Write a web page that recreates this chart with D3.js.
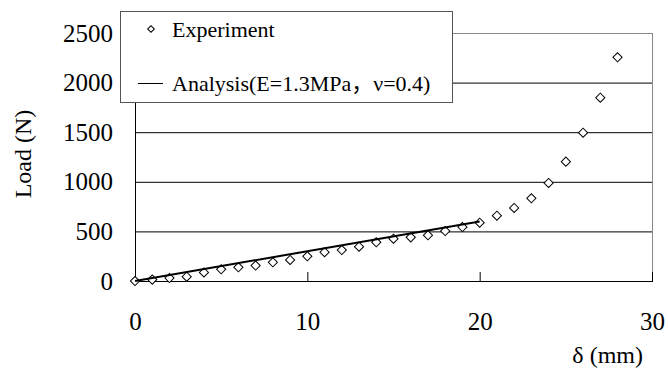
<!DOCTYPE html>
<html>
<head>
<meta charset="utf-8">
<script src="https://cdn.jsdelivr.net/npm/d3@7"></script>
<style>
  body { margin: 0; background: #fff; }
  text { font-family: "Liberation Serif", "Times New Roman", "Noto Sans CJK SC", serif; fill: #000; }
</style>
</head>
<body>
<div id="chart"></div>
<script>
// experiment: displacement (mm) vs load (N)
const deltaExp = [0, 1, 2, 3, 4, 5, 6, 7, 8, 9, 10, 11, 12, 13, 14, 15, 16, 17, 18, 19, 20, 21, 22, 23, 24, 25, 26, 27, 28];
const loadExp = [0, 14, 30, 43, 86, 118, 138, 156, 189, 212, 249, 290, 312, 346, 390, 426, 440, 461, 504, 544, 588, 658, 736, 834, 988, 1203, 1495, 1848, 2255];
// analysis line
const deltaAna = [0, 20];
const loadAna = [0, 600];
const xTicks = [0, 10, 20, 30];
const yTicks = [0, 500, 1000, 1500, 2000, 2500];
const legendLabels = ["Experiment", "Analysis(E=1.3MPa，ν=0.4)"];

const W = 668, H = 372;
const svg = d3.select("#chart").append("svg")
  .attr("width", W).attr("height", H);

const x = d3.scaleLinear().domain([0, 30]).range([135, 652]);
const y = d3.scaleLinear().domain([0, 2500]).range([281, 33]);

// gridlines
svg.append("g").selectAll("line")
  .data(yTicks.filter(d => d > 0 && d < 2500))
  .enter().append("line")
  .attr("x1", x(0)).attr("x2", x(30))
  .attr("y1", d => y(d) + 0.5).attr("y2", d => y(d) + 0.5)
  .attr("stroke", "#000").attr("stroke-width", 1);

// frame: top/right gray
svg.append("line").attr("x1", x(0)).attr("x2", x(30) + 0.5)
  .attr("y1", y(2500) + 0.5).attr("y2", y(2500) + 0.5)
  .attr("stroke", "#888");
svg.append("line").attr("x1", x(30) + 0.5).attr("x2", x(30) + 0.5)
  .attr("y1", y(2500)).attr("y2", y(0))
  .attr("stroke", "#888");

// y axis
const yAxis = svg.append("g")
  .attr("transform", `translate(${x(0)},0)`)
  .call(d3.axisLeft(y).tickValues(yTicks).tickFormat(d3.format("d")).tickSize(0).tickPadding(22));
yAxis.select(".domain").remove();
yAxis.selectAll("text").style("font-size", "25px");

// x axis
const xAxis = svg.append("g")
  .attr("transform", `translate(0,${y(0)})`)
  .call(d3.axisBottom(x).tickValues(xTicks).tickFormat(d3.format("d")).tickSize(-9).tickPadding(31));
xAxis.select(".domain").remove();
xAxis.selectAll("text").style("font-size", "25px");
xAxis.selectAll("line").attr("stroke", "#000");

// axis lines
svg.append("line").attr("x1", x(0) + 0.5).attr("x2", x(0) + 0.5)
  .attr("y1", y(2500)).attr("y2", y(0) + 1).attr("stroke", "#000");
svg.append("line").attr("x1", x(0)).attr("x2", x(30) + 1)
  .attr("y1", y(0) + 0.5).attr("y2", y(0) + 0.5).attr("stroke", "#000");

// experiment markers
const diamond = d3.symbol().type(d3.symbolSquare).size(42);
svg.append("g").selectAll("path")
  .data(deltaExp)
  .enter().append("path")
  .attr("d", diamond)
  .attr("transform", (d, i) => `translate(${x(d)},${y(loadExp[i])}) rotate(45)`)
  .attr("fill", "#fff").attr("stroke", "#000").attr("stroke-width", 1);

// analysis line
const line = d3.line().x(d => x(d[0])).y(d => y(d[1]));
svg.append("path")
  .datum(deltaAna.map((d, i) => [d, loadAna[i]]))
  .attr("d", line)
  .attr("fill", "none").attr("stroke", "#000").attr("stroke-width", 2);

// axis titles
svg.append("text")
  .attr("transform", "translate(31,154) rotate(-90)")
  .attr("text-anchor", "middle")
  .style("font-size", "24px")
  .text("Load (N)");
svg.append("text")
  .attr("x", 643).attr("y", 363)
  .attr("text-anchor", "end")
  .style("font-size", "24px")
  .text("δ (mm)");

// legend
const lg = svg.append("g");
lg.append("rect").attr("x", 120.5).attr("y", 11.5).attr("width", 332).attr("height", 91)
  .attr("fill", "#fff").attr("stroke", "#555");
lg.append("path")
  .attr("d", d3.symbol().type(d3.symbolSquare).size(22))
  .attr("transform", "translate(151,29) rotate(45)")
  .attr("fill", "#fff").attr("stroke", "#000");
lg.append("text").attr("x", 172).attr("y", 37).style("font-size", "22px").text(legendLabels[0]);
lg.append("line").attr("x1", 138).attr("x2", 163).attr("y1", 83.5).attr("y2", 83.5)
  .attr("stroke", "#000");
lg.append("text").attr("x", 172).attr("y", 91).style("font-size", "22px").text(legendLabels[1]);
</script>
</body>
</html>
